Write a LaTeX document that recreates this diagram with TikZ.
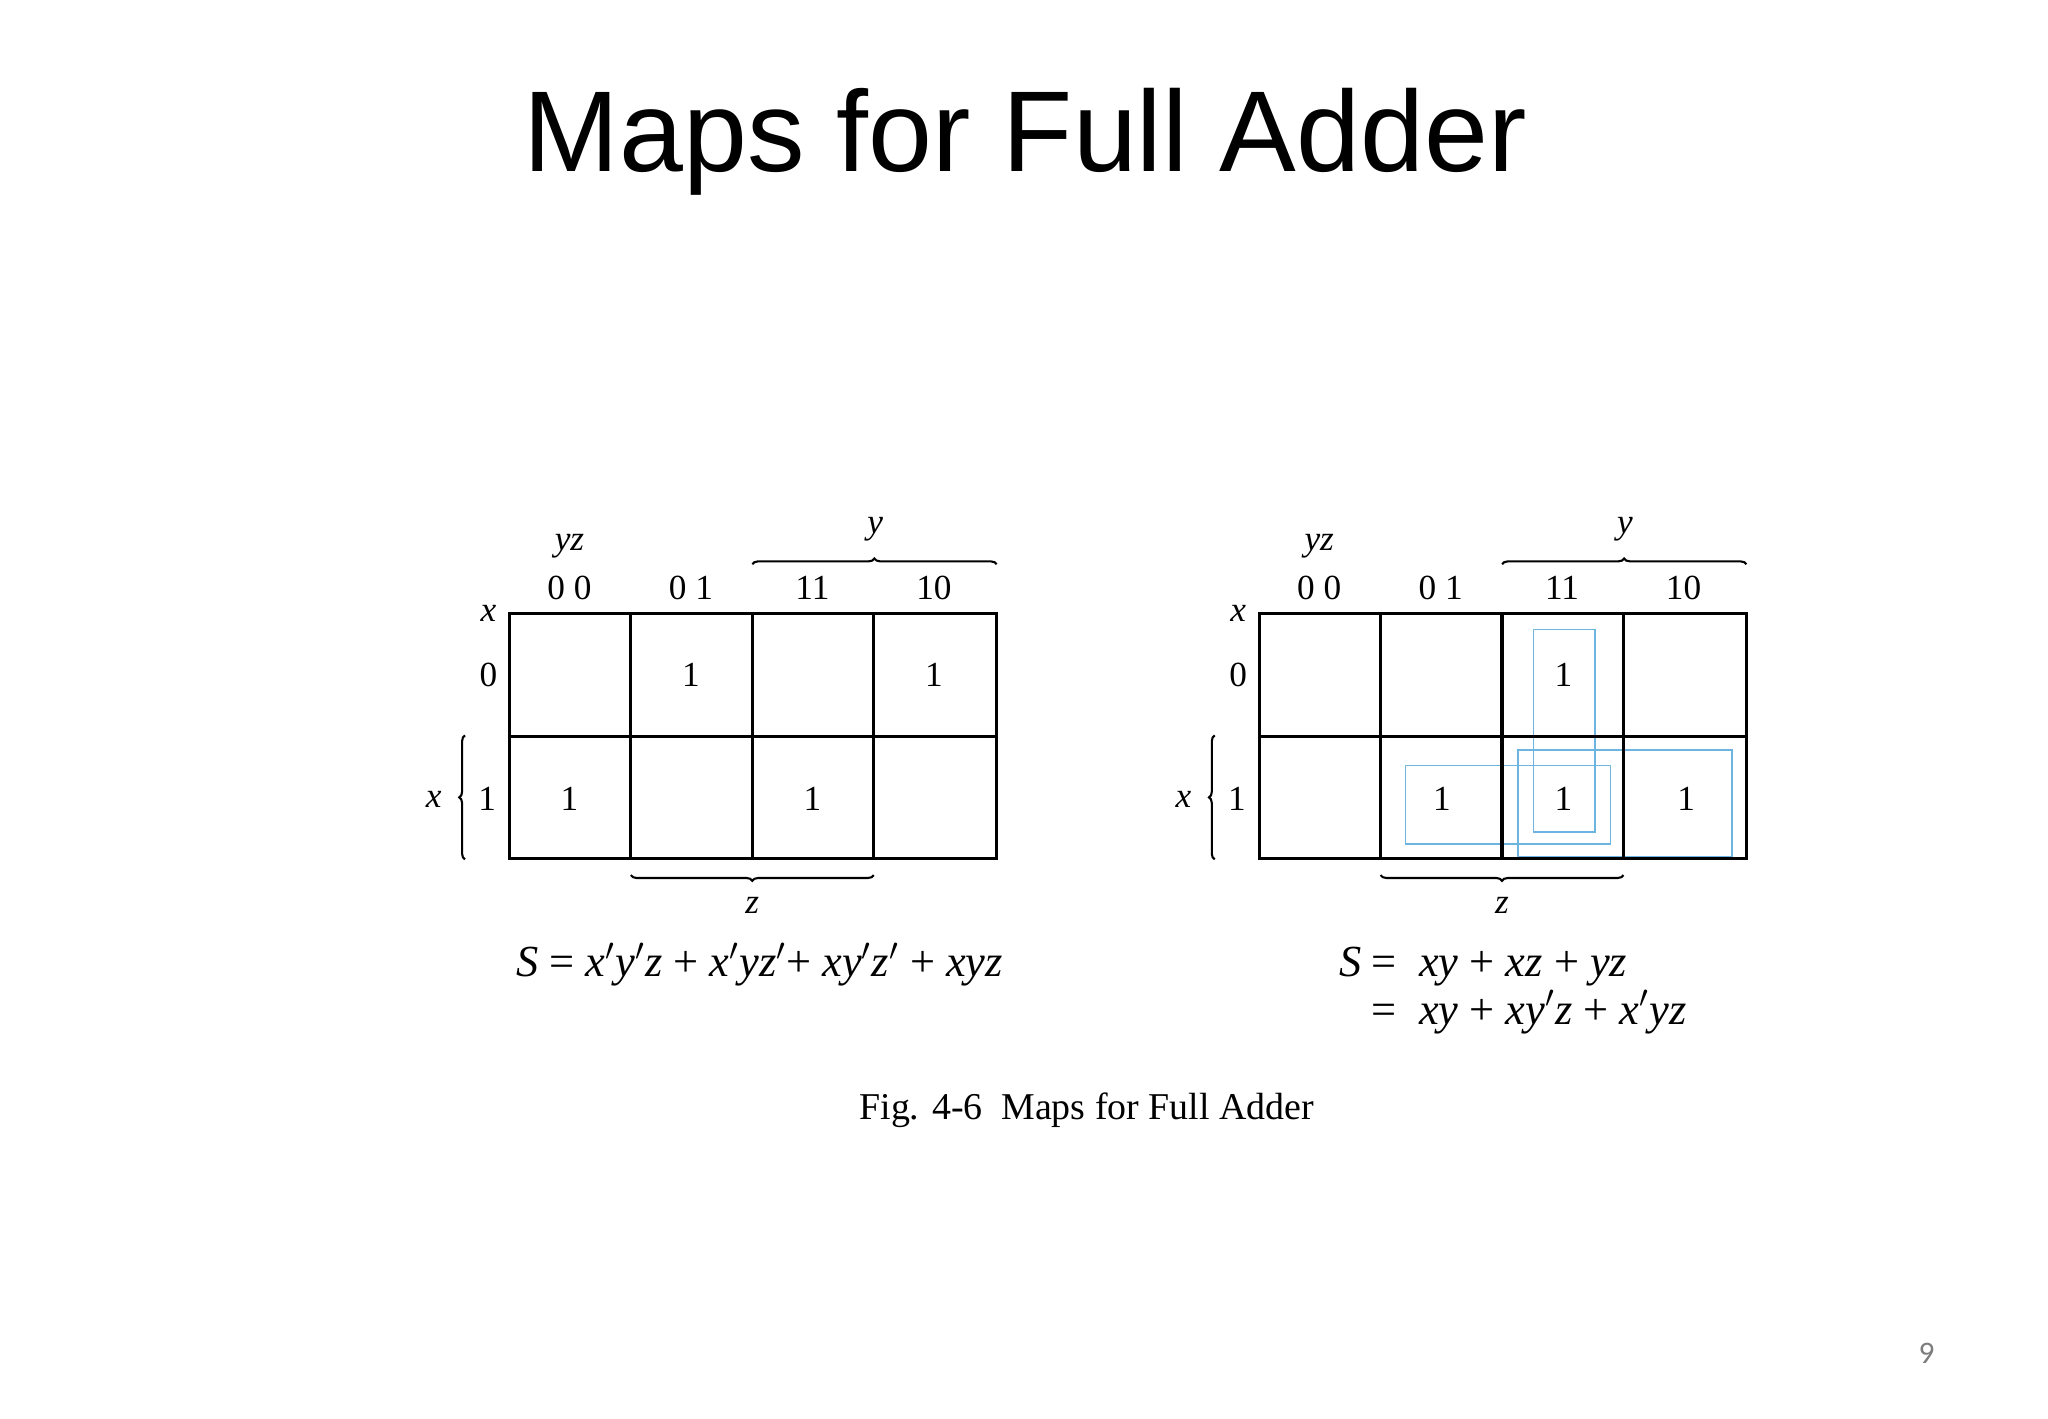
\documentclass[tikz,border=0pt]{standalone}
\usepackage{fontspec}
\setmainfont{Liberation Serif}
\newfontfamily\titlefont{Liberation Sans}
\newfontfamily\numfont{Carlito}
\usetikzlibrary{decorations.pathreplacing}
\definecolor{grpblue}{RGB}{110,180,225}
\definecolor{pgnum}{RGB}{125,125,125}
\newcommand\prm{\ensuremath{{}^{\prime}}}
\begin{document}
\begin{tikzpicture}[x=0.5pt,y=-0.5pt,
  gridline/.style={line width=1.2pt},
  lbl/.style={font=\fontsize{13.5}{16}\selectfont, inner sep=0pt},
  ilbl/.style={font=\fontsize{13.5}{16}\selectfont\itshape, inner sep=0pt},
  brc/.style={decorate, decoration={brace, amplitude=2.2pt}, line width=0.8pt},
  grp/.style={draw=grpblue, line width=0.6pt},
  eq/.style={font=\fontsize{17}{17}\selectfont, inner sep=0pt, anchor=base west}]
\useasboundingbox[fill=white] (0,0) rectangle (1568,1086);

% title
\node[anchor=base, font=\titlefont\fontsize{44}{50}\selectfont, inner sep=0pt] (title) at (785,131) {Maps for Full Adder};

% ---------- left map ----------
\draw[gridline] (390,470) rectangle (763,657);
\draw[gridline] (483,470) -- (483,657) (576,470) -- (576,657) (669,470) -- (669,657) (390,564) -- (763,564);
\node[ilbl] (Lyz) at (436,418) {yz};
\node[lbl] (Lc00) at (436,450) {0 0};
\node[lbl] (Lc01) at (529,450) {0 1};
\node[lbl] (Lc11) at (622,450) {11};
\node[lbl] (Lc10) at (715,450) {10};
\node[ilbl] (Ly) at (670,405) {y};
\node[ilbl] (Lx) at (374,470) {x};
\node[lbl] (Lr0) at (374,517) {0};
\node[lbl] (Lr1) at (373,612) {1};
\node[ilbl] (Lxl) at (332,612) {x};
\node[ilbl] (Lz) at (576,693) {z};
\draw[brc] (576,432) -- (763,432);
\draw[brc] (669,670) -- (483,670);
\draw[brc] (356,658) -- (356,563);
\node[lbl] (L01) at (529,517) {1};
\node[lbl] (L02) at (715,517) {1};
\node[lbl] (L11) at (436,612) {1};
\node[lbl] (L12) at (622,612) {1};
\node[eq] (Leq) at (395,748) {\textit{S} = \textit{x\prm y\prm z} + \textit{x\prm yz\prm}+ \textit{xy\prm z\prm} + \textit{xyz}};

% ---------- right map ----------
\draw[grp] (1174,482) rectangle (1221,637);
\draw[grp] (1076,586) rectangle (1233,646);
\draw[grp] (1162,574) rectangle (1326,656);
\draw[gridline] (964,470) rectangle (1337,657);
\draw[gridline] (1057,470) -- (1057,657) (1150,470) -- (1150,657) (1243,470) -- (1243,657) (964,564) -- (1337,564);
\node[ilbl] (Ryz) at (1010,418) {yz};
\node[lbl] (Rc00) at (1010,450) {0 0};
\node[lbl] (Rc01) at (1103,450) {0 1};
\node[lbl] (Rc11) at (1196,450) {11};
\node[lbl] (Rc10) at (1289,450) {10};
\node[ilbl] (Ry) at (1244,405) {y};
\node[ilbl] (Rx) at (948,470) {x};
\node[lbl] (Rr0) at (948,517) {0};
\node[lbl] (Rr1) at (947,612) {1};
\node[ilbl] (Rxl) at (906,612) {x};
\node[ilbl] (Rz) at (1150,693) {z};
\draw[brc] (1150,432) -- (1337,432);
\draw[brc] (1243,670) -- (1057,670);
\draw[brc] (930,658) -- (930,563);
\node[lbl] (R01) at (1197,517) {1};
\node[lbl] (R11) at (1104,612) {1};
\node[lbl] (R12) at (1197,612) {1};
\node[lbl] (R13) at (1291,612) {1};
\node[eq] (Req) at (1025,748) {\begin{tabular}[t]{@{}r@{\hspace{4pt}}l@{}}
  \textit{S} & =\ \ \textit{xy} + \textit{xz} + \textit{yz}\\
             & =\ \ \textit{xy} + \textit{xy\prm z} + \textit{x\prm yz}
\end{tabular}};

% caption and page number
\node[font=\fontsize{14.5}{17}\selectfont, inner sep=0pt, anchor=base] (cap) at (832,857) {Fig. 4-6\ \ Maps for Full Adder};
\node[font=\numfont\fontsize{12}{14}\selectfont, text=pgnum, inner sep=0pt] (pg) at (1475,1036) {9};
\end{tikzpicture}
\end{document}
